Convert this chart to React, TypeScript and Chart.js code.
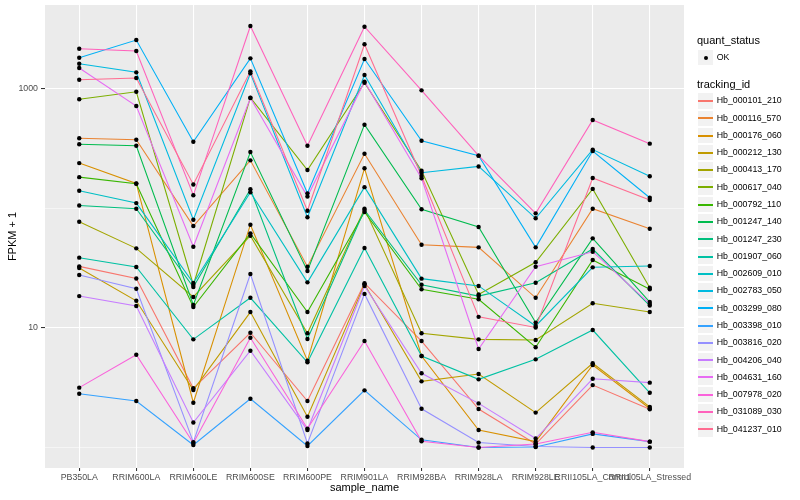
import React, { useEffect, useRef } from "react";
import { Chart, registerables } from "chart.js";

Chart.register(...registerables);

const FONT = '"Liberation Sans", Arial, Helvetica, sans-serif';

const categories = [
  "PB350LA",
  "RRIM600LA",
  "RRIM600LE",
  "RRIM600SE",
  "RRIM600PE",
  "RRIM901LA",
  "RRIM928BA",
  "RRIM928LA",
  "RRIM928LE",
  "RRII105LA_Control",
  "RRII105LA_Stressed",
];

const trackingIds = [
  "Hb_000101_210",
  "Hb_000116_570",
  "Hb_000176_060",
  "Hb_000212_130",
  "Hb_000413_170",
  "Hb_000617_040",
  "Hb_000792_110",
  "Hb_001247_140",
  "Hb_001247_230",
  "Hb_001907_060",
  "Hb_002609_010",
  "Hb_002783_050",
  "Hb_003299_080",
  "Hb_003398_010",
  "Hb_003816_020",
  "Hb_004206_040",
  "Hb_004631_160",
  "Hb_007978_020",
  "Hb_031089_030",
  "Hb_041237_010",
];

const seriesColors = [
  "#F8766D", "#EA8331", "#D89000", "#C09B00", "#A3A500",
  "#7CAE00", "#39B600", "#00BB4E", "#00BF7D", "#00C1A3",
  "#00BFC4", "#00BAE0", "#00B0F6", "#35A2FF", "#9590FF",
  "#C77CFF", "#E76BF3", "#FA62DB", "#FF62BC", "#FF6C91",
];

// FPKM + 1 values per sample (same order as categories)
const hb000101_210 = [32.8, 26.0, 3.13, 9.13, 2.45, 23.7, 7.78, 2.10, 1.07, 3.33, 2.09];
const hb000116_570 = [387, 376, 71.4, 253, 32.6, 287, 49.8, 47.3, 17.9, 99.6, 67.8];
const hb000176_060 = [240, 162, 2.37, 73.2, 5.32, 217, 5.83, 1.40, 1.12, 4.90, 2.12];
const hb000212_130 = [31.8, 16.9, 3.03, 13.6, 1.81, 23.2, 3.58, 4.12, 1.96, 5.07, 2.19];
const hb000413_170 = [77.5, 46.4, 18.2, 59.2, 9.03, 99.6, 9.03, 8.04, 7.94, 16.1, 13.6];
const hb000617_040 = [820, 949, 22.9, 846, 210, 1129, 207, 19.1, 35.5, 146, 21.7];
const hb000792_110 = [183, 161, 15.0, 62.0, 13.6, 93.5, 21.1, 17.4, 6.90, 37.1, 21.1];
const hb001247_140 = [345, 335, 15.6, 297, 30.0, 503, 98.5, 70.0, 11.1, 56.3, 16.5];
const hb001247_230 = [106, 99.6, 22.0, 145, 8.09, 97.1, 23.0, 18.5, 23.9, 45.8, 15.4];
const hb001907_060 = [38.8, 32.4, 8.04, 17.9, 5.16, 46.7, 5.83, 3.72, 5.47, 9.62, 2.87];
const hb002609_010 = [141, 111, 23.8, 137, 24.1, 151, 25.9, 22.5, 10.4, 32.2, 33.0];
const hb002783_050 = [1628, 1379, 80.6, 1353, 84.4, 1310, 199, 225, 82.8, 311, 186];
const hb003299_080 = [1828, 2570, 362, 1806, 134, 1782, 369, 277, 47.3, 303, 123];
const hb003398_010 = [2.82, 2.45, 1.05, 2.56, 1.03, 3.01, 1.16, 1.0, 1.01, 1.30, 1.12];
const hb003816_020 = [27.8, 21.3, 1.11, 28.3, 1.08, 19.3, 2.11, 1.10, 1.02, 1.0, 1.0];
const hb004206_040 = [18.5, 15.3, 1.62, 6.46, 1.40, 22.5, 4.18, 2.34, 1.19, 3.76, 3.49];
const hb004631_160 = [1498, 720, 47.9, 840, 126, 1151, 179, 6.67, 32.6, 43.5, 15.9];
const hb007978_020 = [3.17, 5.98, 1.09, 8.29, 1.44, 7.78, 1.13, 1.0, 1.07, 1.34, 1.12];
const hb031089_030 = [2174, 2080, 129, 3367, 335, 3322, 975, 277, 91.1, 550, 349];
const hb041237_010 = [1196, 1236, 159, 1406, 95.9, 2366, 187, 12.4, 10.1, 180, 118];

const seriesValues = [
  hb000101_210, hb000116_570, hb000176_060, hb000212_130, hb000413_170,
  hb000617_040, hb000792_110, hb001247_140, hb001247_230, hb001907_060,
  hb002609_010, hb002783_050, hb003299_080, hb003398_010, hb003816_020,
  hb004206_040, hb004631_160, hb007978_020, hb031089_030, hb041237_010,
];

const yGridValues = [1, 10, 100, 1000];
const yTickLabels = [10, 1000];
const yMin = 0.674;
const yMax = 5047;

export default function App() {
  const ref = useRef<HTMLCanvasElement>(null);

  useEffect(() => {
    const canvas = ref.current;
    if (!canvas) return;

    const panelBg = {
      id: "panelBg",
      beforeDraw(chart: any) {
        const { ctx, chartArea: a } = chart;
        ctx.save();
        ctx.fillStyle = "#EBEBEB";
        ctx.fillRect(a.left, a.top, a.right - a.left, a.bottom - a.top);
        ctx.restore();
      },
    };

    const lineSets: any[] = seriesValues.map((vals, i) => ({
      type: "line",
      label: trackingIds[i],
      data: vals.map((v, j) => ({ x: j, y: v })),
      borderColor: seriesColors[i],
      backgroundColor: seriesColors[i],
      borderWidth: 1.07,
      pointRadius: 0,
      fill: false,
      tension: 0,
      order: 100 - i,
    }));

    const pointSet: any = {
      type: "scatter",
      label: "OK",
      data: seriesValues.flatMap((vals) => vals.map((v, j) => ({ x: j, y: v }))),
      backgroundColor: "#000000",
      borderColor: "#000000",
      borderWidth: 0,
      pointRadius: 2.2,
      showLine: false,
      order: 0,
    };

    const chart = new Chart(canvas, {
      type: "line",
      data: { datasets: [...lineSets, pointSet] },
      plugins: [panelBg],
      options: {
        responsive: false,
        animation: false,
        events: [],
        layout: { padding: { left: 0, right: 116, top: 5, bottom: 0 } },
        plugins: {
          legend: { display: false },
          tooltip: { enabled: false },
          title: { display: false },
        },
        scales: {
          x: {
            type: "linear",
            min: -0.6,
            max: 10.6,
            afterBuildTicks: (s: any) => {
              s.ticks = categories.map((_, i) => ({ value: i }));
            },
            afterFit: (s: any) => {
              s.height = 32;
              s.paddingLeft = 0;
              s.paddingRight = 0;
            },
            ticks: {
              autoSkip: false,
              maxRotation: 0,
              minRotation: 0,
              padding: 1,
              color: "#4D4D4D",
              font: { family: FONT, size: 8.8 },
              callback: (v: any) => categories[v as number] ?? "",
            },
            grid: {
              color: "#FFFFFF",
              lineWidth: 1.07,
              tickLength: 3,
              tickColor: "#333333",
              tickWidth: 1.07,
            },
            border: { display: false },
            title: {
              display: true,
              text: "sample_name",
              color: "#000000",
              font: { family: FONT, size: 11 },
              padding: { top: 0, bottom: 5 },
            },
          },
          y: {
            type: "logarithmic",
            min: yMin,
            max: yMax,
            afterBuildTicks: (s: any) => {
              s.ticks = yGridValues.map((v) => ({ value: v }));
            },
            afterFit: (s: any) => {
              s.width = 45;
              s.paddingTop = 0;
              s.paddingBottom = 0;
            },
            ticks: {
              padding: 3,
              color: "#4D4D4D",
              font: { family: FONT, size: 8.8 },
              callback: (v: any) => (yTickLabels.includes(v as number) ? String(v) : ""),
            },
            grid: {
              color: "#FFFFFF",
              lineWidth: (c: any) => (c.tick && yTickLabels.includes(c.tick.value) ? 1.07 : 0.53),
              tickLength: 4,
              tickWidth: 1.07,
              tickColor: (c: any) =>
                c.tick && yTickLabels.includes(c.tick.value) ? "#333333" : "rgba(0,0,0,0)",
            },
            border: { display: false },
            title: {
              display: true,
              text: "FPKM + 1",
              color: "#000000",
              font: { family: FONT, size: 11 },
              padding: { top: 6, bottom: 0 },
            },
          },
        },
      } as any,
    });

    return () => chart.destroy();
  }, []);

  const keySize = 17.28;
  const firstRow = 101;

  const keyBox = (top: number): React.CSSProperties => ({
    position: "absolute",
    left: 697,
    top,
    width: keySize,
    height: keySize,
    background: "#F2F2F2",
    boxSizing: "border-box",
    border: "0.6px solid #FFFFFF",
  });

  return (
    <div style={{ position: "absolute", left: 0, top: 0, width: 800, height: 500, fontFamily: FONT, background: "#FFFFFF" }}>
      <canvas ref={ref} width={800} height={500} style={{ display: "block" }} />
      <div style={{ position: "absolute", left: 697, top: 33.5, fontSize: 11, lineHeight: "13px", whiteSpace: "nowrap", color: "#000" }}>
        quant_status
      </div>
      <div style={keyBox(49)} />
      <div style={{ position: "absolute", left: 703.5, top: 55.5, width: 4, height: 4, borderRadius: 2, background: "#000" }} />
      <div style={{ position: "absolute", left: 716.7, top: 49, fontSize: 8.8, lineHeight: `${keySize}px`, whiteSpace: "nowrap", color: "#000" }}>
        OK
      </div>
      <div style={{ position: "absolute", left: 697, top: 78, fontSize: 11, lineHeight: "13px", whiteSpace: "nowrap", color: "#000" }}>
        tracking_id
      </div>
      {trackingIds.map((id, i) => {
        const center = firstRow + i * keySize;
        const top = center - keySize / 2;
        return (
          <React.Fragment key={id}>
            <div style={keyBox(top)} />
            <div style={{ position: "absolute", left: 698, top: Math.round(center) - 1, width: 15, height: 1.5, background: seriesColors[i] }} />
            <div style={{ position: "absolute", left: 716.7, top, fontSize: 8.8, lineHeight: `${keySize}px`, whiteSpace: "nowrap", color: "#000" }}>
              {id}
            </div>
          </React.Fragment>
        );
      })}
    </div>
  );
}
